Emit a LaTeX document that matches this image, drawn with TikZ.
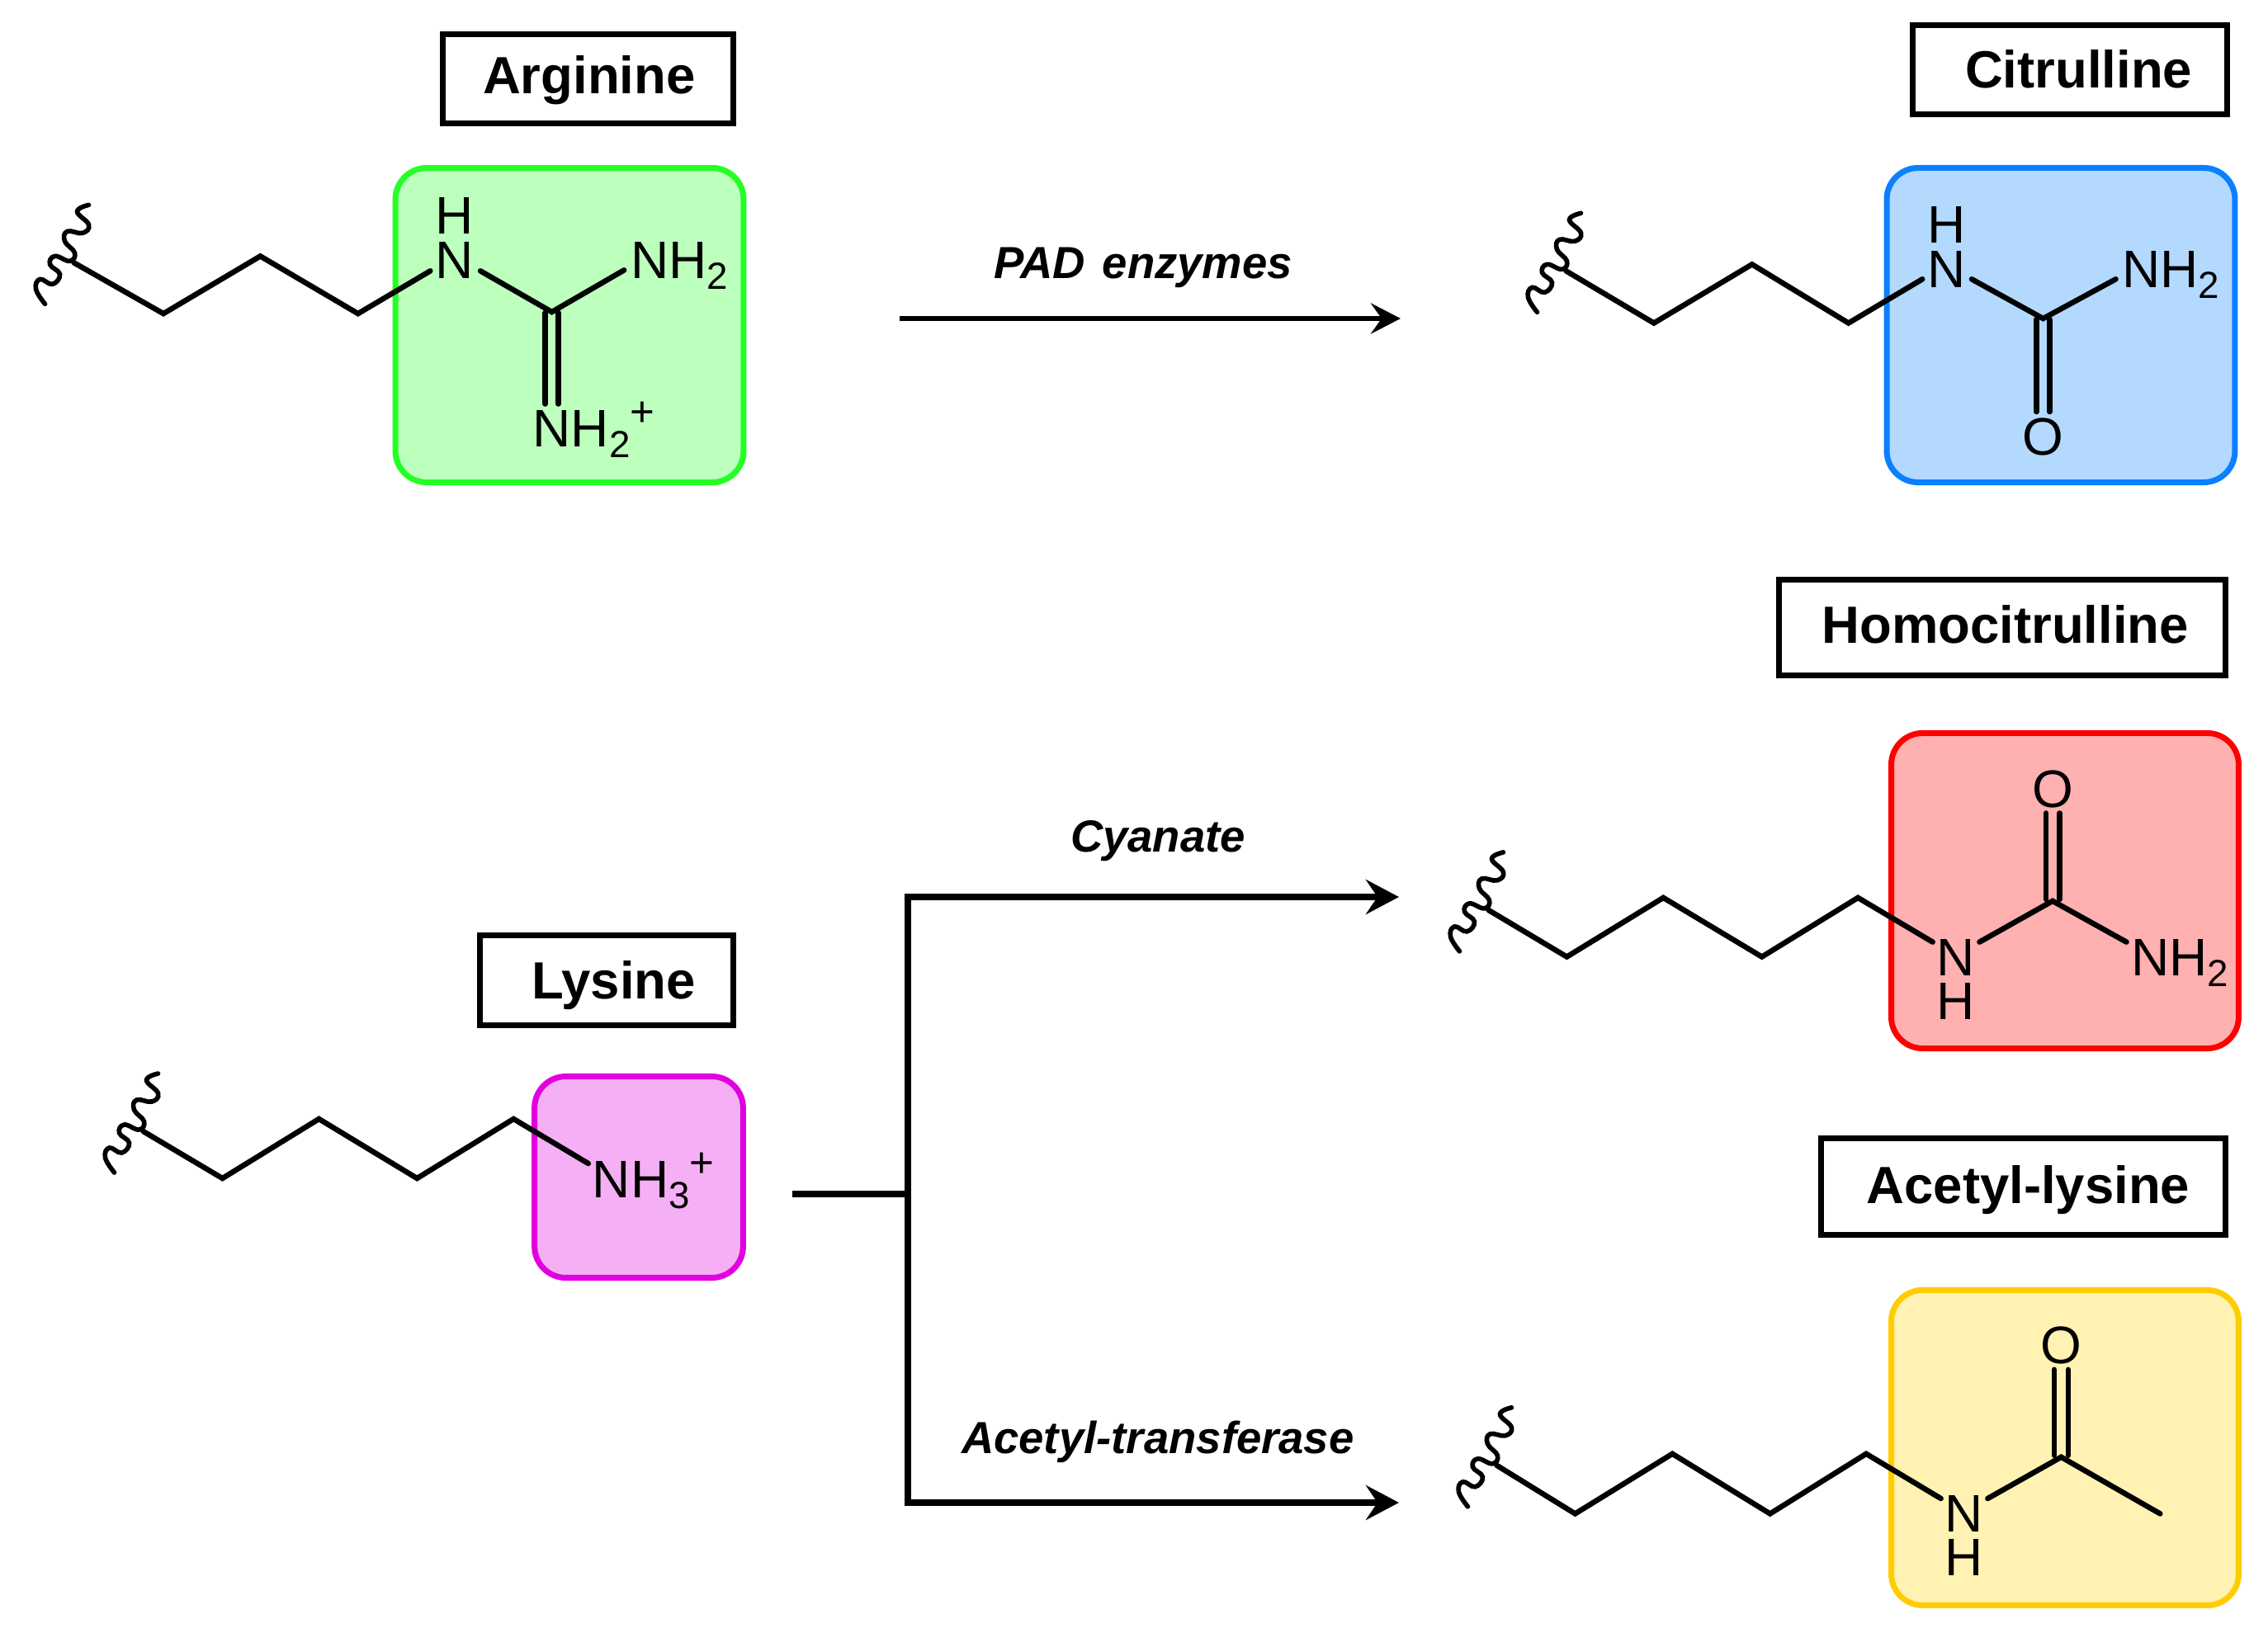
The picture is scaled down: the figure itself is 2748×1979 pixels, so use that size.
\documentclass[tikz,border=0pt]{standalone}
\usepackage{fontspec}
\setmainfont{Liberation Sans}
\usetikzlibrary{arrows.meta,calc}
\definecolor{grnE}{HTML}{24FF24}\definecolor{grnF}{HTML}{BDFFBD}
\definecolor{bluE}{HTML}{0A80FF}\definecolor{bluF}{HTML}{B3D9FF}
\definecolor{redE}{HTML}{FF0000}\definecolor{redF}{HTML}{FFB0B0}
\definecolor{yelE}{HTML}{FFCC00}\definecolor{yelF}{HTML}{FFF2B3}
\definecolor{magE}{HTML}{E000E0}\definecolor{magF}{HTML}{F5B0F5}
\newcommand{\chemsub}[1]{{\fontsize{13pt}{13pt}\selectfont\raisebox{-3.7pt}{#1}}}
\newcommand{\chemsup}[1]{{\fontsize{14.5pt}{14.5pt}\selectfont\raisebox{7pt}{#1}}}
\newcommand{\squiggle}[1]{%
  \draw[wavy] plot[smooth,tension=.75] coordinates {
    ($(#1)+(18,-70)$) ($(#1)+(4,-62)$) ($(#1)+(18,-46)$) ($(#1)+(10.5,-36)$) ($(#1)+(-8,-38)$)
    ($(#1)+(-11,-26)$) ($(#1)+(1,-12)$) ($(#1)+(-5,-2)$) ($(#1)+(-23,-8)$) ($(#1)+(-29,2)$)
    ($(#1)+(-17,14)$) ($(#1)+(-26,26)$) ($(#1)+(-41,20)$) ($(#1)+(-46,32)$) ($(#1)+(-35,50)$) };}
\tikzset{
  namebox/.style={draw=black,line width=2pt,fill=white},
  region/.style={line width=2pt,rounded corners=0.38cm},
  bond/.style={line width=1.85pt,line cap=round,line join=miter},
  wavy/.style={line width=1.6pt,line cap=round},
  chem/.style={inner sep=0pt,outer sep=0pt,anchor=base west,font=\fontsize{18.2pt}{18.2pt}\selectfont},
  chemc/.style={inner sep=0pt,outer sep=0pt,anchor=base,font=\fontsize{18.2pt}{18.2pt}\selectfont},
  title/.style={inner sep=0pt,outer sep=0pt,anchor=base west,font=\fontsize{18.05pt}{18pt}\selectfont\bfseries},
  agent/.style={inner sep=0pt,outer sep=0pt,anchor=base west,font=\fontsize{15.5pt}{15.5pt}\selectfont\bfseries\itshape},
  rxn/.style={line width=1.9pt,-{Stealth[length=36*0.2845pt,width=37*0.2845pt,inset=13*0.2845pt]}},
  rxnb/.style={line width=2.1pt,-{Stealth[length=40*0.2845pt,width=42*0.2845pt,inset=14*0.2845pt]}},
  rxnline/.style={line width=2.1pt,line cap=butt},
  stub/.style={line width=2.5pt}
}
\begin{document}
\begin{tikzpicture}[x=0.01cm,y=-0.01cm]
\useasboundingbox (0,0) rectangle (2748,1979);
\fill[white] (0,0) rectangle (2748,1979);
% ---- Arginine
\begin{scope}[scale=.995]
\draw[region,draw=grnE,fill=grnF] (481.5,204.5) rectangle (905.5,587.5);
\draw[namebox] (539.5,41.5) rectangle (893,150.5);
\node[title] (tArginine) at (588,114) {Arginine};
\coordinate (a0) at (90,320); \coordinate (a1) at (199,382); \coordinate (a2) at (317,312);
\coordinate (a3) at (436,382); \coordinate (a4) at (524,330);
\coordinate (a5) at (585,330); \coordinate (ac) at (672,380); \coordinate (a6) at (760,329);
\coordinate (ad1) at (664,381); \coordinate (ad2) at (664,492); \coordinate (ad3) at (680,381); \coordinate (ad4) at (680,492);
\draw[bond] (a0)--(a1)--(a2)--(a3)--(a4);
\draw[bond] (a5)--(ac)--(a6);
\draw[bond] (ad1)--(ad2); \draw[bond] (ad3)--(ad4);
\node[chemc] (aH) at (553,285) {H};
\node[chemc] (aN) at (553,339) {N};
\node[chem] (aNH) at (768,339) {NH\chemsub{2}};
\node[chem] (aNHp) at (649,544) {NH\chemsub{2}\chemsup{+}};
\end{scope}
% ---- Citrulline
\begin{scope}[shift={(1800,0)},scale=.995,shift={(-1800,0)}]
\draw[region,draw=bluE,fill=bluF] (2288.5,204.5) rectangle (2712.5,587.5);
\draw[namebox] (2320,30.5) rectangle (2703,139.5);
\node[title] (tCit) at (2384,107.5) {Citrulline};
\coordinate (c0) at (1898,330); \coordinate (c1) at (2005,393.5); \coordinate (c2) at (2124.5,322);
\coordinate (c3) at (2242,393.5); \coordinate (c4) at (2332,340);
\coordinate (c5) at (2392,340); \coordinate (cc) at (2479,388); \coordinate (c6) at (2567.5,340);
\coordinate (cd1) at (2471,389); \coordinate (cd2) at (2471,501.5); \coordinate (cd3) at (2487,389); \coordinate (cd4) at (2487,501.5);
\draw[bond] (c0)--(c1)--(c2)--(c3)--(c4);
\draw[bond] (c5)--(cc)--(c6);
\draw[bond] (cd1)--(cd2); \draw[bond] (cd3)--(cd4);
\node[chemc] (cH) at (2361,296) {H};
\node[chemc] (cN) at (2361,350) {N};
\node[chem] (cNH) at (2575,350) {NH\chemsub{2}};
\node[chemc] (cO) at (2479,554) {O};
\end{scope}
% ---- Homocitrulline
\begin{scope}[shift={(1700,680)},scale=.995,shift={(-1700,-680)}]
\draw[region,draw=redE,fill=redF] (2294.5,889.5) rectangle (2717.5,1273.5);
\draw[namebox] (2157.5,702.5) rectangle (2701.5,819.5);
\node[title] (tHomo) at (2210,780) {Homocitrulline};
\coordinate (h0) at (1804,1105); \coordinate (h1) at (1899.5,1162); \coordinate (h2) at (2017,1090);
\coordinate (h3) at (2137,1162); \coordinate (h4) at (2254,1090); \coordinate (h5) at (2345,1144);
\coordinate (h6) at (2402,1144); \coordinate (hc) at (2491,1094); \coordinate (h7) at (2581,1144);
\coordinate (hd1) at (2483,1092); \coordinate (hd2) at (2483,987); \coordinate (hd3) at (2499.5,1092); \coordinate (hd4) at (2499.5,987);
\draw[bond] (h0)--(h1)--(h2)--(h3)--(h4)--(h5);
\draw[bond] (h6)--(hc)--(h7);
\draw[bond] (hd1)--(hd2); \draw[bond] (hd3)--(hd4);
\node[chemc] (hN) at (2373,1185) {N};
\node[chemc] (hH) at (2373,1238) {H};
\node[chem] (hNH) at (2586.5,1185) {NH\chemsub{2}};
\node[chemc] (hO) at (2491,980) {O};
\end{scope}
% ---- Acetyl-lysine
\begin{scope}[shift={(1700,1340)},scale=.995,shift={(-1700,-1340)}]
\draw[region,draw=yelE,fill=yelF] (2294.5,1564.5) rectangle (2717.5,1948.5);
\draw[namebox] (2209.5,1379.5) rectangle (2701.5,1497);
\node[title] (tAcl) at (2264.5,1459.5) {Acetyl-lysine};
\coordinate (l0) at (1814,1778); \coordinate (l1) at (1909.6,1837); \coordinate (l2) at (2028,1764);
\coordinate (l3) at (2147,1837); \coordinate (l4) at (2264,1764); \coordinate (l5) at (2355,1818.5);
\coordinate (l6) at (2412,1818.5); \coordinate (lc) at (2501.5,1768); \coordinate (l7) at (2622,1837);
\coordinate (ld1) at (2493,1766); \coordinate (ld2) at (2493,1661.5); \coordinate (ld3) at (2510,1766); \coordinate (ld4) at (2510,1661.5);
\draw[bond] (l0)--(l1)--(l2)--(l3)--(l4)--(l5);
\draw[bond] (l6)--(lc)--(l7);
\draw[bond] (ld1)--(ld2); \draw[bond] (ld3)--(ld4);
\node[chemc] (lN) at (2383,1859.5) {N};
\node[chemc] (lH) at (2383,1912) {H};
\node[chemc] (lO) at (2501.5,1654.5) {O};
\end{scope}
% ---- Lysine
\begin{scope}[shift={(80,0)},xscale=.995,shift={(-80,0)}]
\draw[region,draw=magE,fill=magF] (650.5,1304.5) rectangle (904.5,1548.5);
\draw[namebox] (584.5,1133.5) rectangle (893,1242.5);
\node[title] (tLys) at (647,1210) {Lysine};
\coordinate (k0) at (174,1371); \coordinate (k1) at (270.5,1428); \coordinate (k2) at (388,1356);
\coordinate (k3) at (507.5,1428); \coordinate (k4) at (625,1356); \coordinate (k5) at (716,1410);
\draw[bond] (k0)--(k1)--(k2)--(k3)--(k4)--(k5);
\node[chem] (kNH) at (721,1451) {NH\chemsub{3}\chemsup{+}};
\end{scope}
\squiggle{a0}\squiggle{c0}\squiggle{h0}\squiggle{l0}\squiggle{k0}
% ---- Reactions
\coordinate (r1s) at (1090,386); \coordinate (r1e) at (1697,386);
\draw[rxn] (r1s)--(r1e);
\node[agent] (pad) at (1204,337.5) {PAD\hspace{1.6pt} enzymes};
\coordinate (st) at (960,1447); \coordinate (bj) at (1100,1447);
\coordinate (bt) at (1100,1087); \coordinate (bb) at (1100,1821);
\coordinate (r2e) at (1695,1087); \coordinate (r3e) at (1695,1821);
\draw[stub] (st)--(bj);
\draw[rxnb] ($(bt)+(-4,0)$)--(r2e);
\draw[rxnb] ($(bb)+(-4,0)$)--(r3e);
\draw[rxnline] ($(bt)+(0,-3.5)$)--($(bb)+(0,3.5)$);
\node[agent] (cya) at (1297,1032.5) {Cyanate};
\node[agent] (act) at (1165,1761.5) {Acetyl-transferase};
\end{tikzpicture}
\end{document}
